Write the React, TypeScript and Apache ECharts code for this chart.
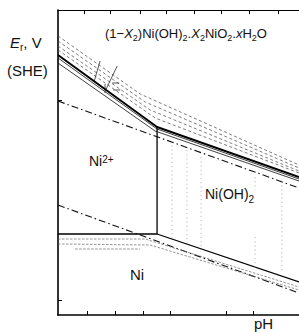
import React, { useEffect, useRef } from "react";
import * as echarts from "echarts";

// Axis ranges: x = pH, y = E (V, SHE) on the figure's relative scale
const xRange = [0, 8.71];
const yRange = [-1.15, 1.9];
const topTicks = [0.95, 1.88, 2.97, 3.91, 4.92, 5.89, 6.9, 7.95];
const bottomTicks = [1.05, 2.06, 3.08, 4.05, 6.07, 7.05];
const leftTicks = [-1, 1];

// Upper family: (1-X2)Ni(OH)2.X2NiO2 / Ni(OH)2 / Ni2+ boundaries
const upperDash1 = [[0, 1.64], [2.97, 1.06], [8.71, 0.35]];
const upperDash2 = [[0, 1.59], [3.15, 0.98], [8.71, 0.32]];
const upperDash3 = [[0, 1.54], [3.33, 0.9], [8.71, 0.29]];
const upperDash4 = [[0, 1.5], [3.51, 0.82], [8.71, 0.27]];
const upperMain = [[0, 1.45], [3.58, 0.73], [8.71, 0.23]];
const upperThin1 = [[0, 1.42], [3.58, 0.71], [8.71, 0.21]];
const upperThin2 = [[0, 1.37], [3.51, 0.69], [8.71, 0.19]];

// Water stability lines
const oxygenLine = [[0, 0.99], [8.71, 0.12]];
const hydrogenLine = [[0, -0.05], [8.71, -0.93]];

// Ni2+ / Ni(OH)2 and Ni boundaries
const ni2Boundary = [[3.58, 0.73], [3.58, -0.34]];
const niBoundary = [[0, -0.34], [3.58, -0.34], [8.71, -0.82]];
const niDot1 = [[0, -0.39], [3.15, -0.39], [8.71, -0.87]];
const niDot2 = [[0, -0.44], [3.33, -0.45], [8.71, -0.9]];
const niDot3 = [[0.62, -0.49], [2.97, -0.49]];

// Vertical solubility boundaries inside Ni(OH)2
const vDot1 = [[4.12, 0.55], [4.12, -0.38]];
const vDot2 = [[4.66, 0.5], [4.66, -0.43]];
const vDot3 = [[5.17, 0.43], [5.17, -0.48]];
const vDot4a = [[7.12, 0.23], [7.12, 0.1]];
const vDot4b = [[7.12, -0.37], [7.12, -0.7]];
const vDot5 = [[8.09, 0.15], [8.09, -0.72]];

// Short annotation marks across the upper family
const mark1 = [[1.52, 1.39], [1.31, 1.19]];
const mark2 = [[2.14, 1.34], [1.74, 1.11]];
const mark3 = [[1.7, 1.16], [1.7, 1.07]];
const mark4 = [[1.96, 1.17], [2.21, 1.17]];
const mark5 = [[2.0, 1.1], [2.25, 1.1]];

const styles: Record<string, any> = {
  dash: { color: "#444", width: 0.7, type: [3, 2.5] },
  main: { color: "#000", width: 2 },
  thin: { color: "#111", width: 0.8 },
  dashdot: { color: "#111", width: 1.1, type: [7, 3, 1.5, 3] },
  solid: { color: "#000", width: 1.3 },
  fine: { color: "#666", width: 0.7, type: [2.5, 1.5] },
  vdot: { color: "#999", width: 0.7, type: [1.2, 3] },
  mark: { color: "#111", width: 0.7 },
};

const lineSpecs: [number[][], string][] = [
  [upperDash1, "dash"],
  [upperDash2, "dash"],
  [upperDash3, "dash"],
  [upperDash4, "dash"],
  [upperThin2, "thin"],
  [upperThin1, "thin"],
  [upperMain, "main"],
  [oxygenLine, "dashdot"],
  [hydrogenLine, "dashdot"],
  [ni2Boundary, "solid"],
  [niBoundary, "solid"],
  [niDot1, "fine"],
  [niDot2, "fine"],
  [niDot3, "fine"],
  [vDot1, "vdot"],
  [vDot2, "vdot"],
  [vDot3, "vdot"],
  [vDot4a, "vdot"],
  [vDot4b, "vdot"],
  [vDot5, "vdot"],
  [mark1, "mark"],
  [mark2, "mark"],
  [mark3, "mark"],
  [mark4, "mark"],
  [mark5, "mark"],
];

const FONT = "Liberation Sans, Arial, Helvetica, sans-serif";

function richStyles(size: number) {
  const sub = Math.round(size * 0.68);
  const lh = size + 1;
  return {
    n: { fontSize: size, fontFamily: FONT, fill: "#111", lineHeight: lh, verticalAlign: "top" },
    i: { fontSize: size, fontFamily: FONT, fontStyle: "italic", fill: "#111", lineHeight: lh, verticalAlign: "top" },
    s: { fontSize: sub, fontFamily: FONT, fill: "#111", lineHeight: sub, padding: [Math.round(size * 0.48), 0, 0, 0], verticalAlign: "top" },
    p: { fontSize: sub, fontFamily: FONT, fill: "#111", lineHeight: sub, verticalAlign: "top" },
  };
}

function label(text: string, x: number, y: number, size: number) {
  return {
    type: "text",
    x,
    y,
    silent: true,
    style: {
      text,
      rich: richStyles(size),
      fontSize: size,
      fontFamily: FONT,
      fill: "#111",
      textVerticalAlign: "top",
      verticalAlign: "top",
    },
  };
}

export default function App() {
  const ref = useRef<HTMLDivElement>(null);
  useEffect(() => {
    if (!ref.current) return;
    const chart = echarts.init(ref.current, null, { renderer: "svg" });
    const axisCommon = {
      type: "value",
      axisLabel: { show: false },
      splitLine: { show: false },
    };
    chart.setOption({
      animation: false,
      backgroundColor: "#fff",
      grid: { left: 58, right: 0, top: 10, bottom: 17 },
      xAxis: [
        {
          ...axisCommon,
          min: xRange[0],
          max: xRange[1],
          position: "bottom",
          axisLine: { show: true, onZero: false, lineStyle: { color: "#000", width: 1.6 } },
          axisTick: { show: true, inside: true, length: 4, customValues: bottomTicks, lineStyle: { color: "#000", width: 1 } },
        },
        {
          ...axisCommon,
          min: xRange[0],
          max: xRange[1],
          position: "top",
          axisLine: { show: true, onZero: false, lineStyle: { color: "#000", width: 1 } },
          axisTick: { show: true, inside: true, length: 4, customValues: topTicks, lineStyle: { color: "#000", width: 1 } },
        },
      ],
      yAxis: {
        ...axisCommon,
        min: yRange[0],
        max: yRange[1],
        axisLine: { show: true, onZero: false, lineStyle: { color: "#000", width: 1.6 } },
        axisTick: { show: true, inside: true, length: 4, customValues: leftTicks, lineStyle: { color: "#000", width: 1 } },
      },
      series: lineSpecs.map(([data, kind], k) => ({
        type: "line",
        name: "l" + k,
        data,
        xAxisIndex: 0,
        yAxisIndex: 0,
        showSymbol: false,
        symbol: "none",
        silent: true,
        lineStyle: styles[kind],
        z: kind === "main" ? 5 : 3,
      })),
      graphic: [
        label("{i|E}{s|r}{n|, V}", 10, 35, 15),
        label("{n|(SHE)}", 7, 63, 15),
        label("{n|(1−}{i|X}{s|2}{n|)Ni(OH)}{s|2}{n|.}{i|X}{s|2}{n|NiO}{s|2}{n|.}{i|x}{n|H}{s|2}{n|O}", 105, 27, 13),
        label("{n|Ni}{p|2+}", 89, 154, 14),
        label("{n|Ni(OH)}{s|2}", 205, 187, 14),
        label("{n|Ni}", 130, 267, 15),
        label("{n|pH}", 254, 316, 15),
      ],
    });
    return () => chart.dispose();
  }, []);
  return (
    <div
      ref={ref}
      style={{ position: "fixed", left: 0, top: 0, width: 299, height: 332, background: "#fff" }}
    />
  );
}
